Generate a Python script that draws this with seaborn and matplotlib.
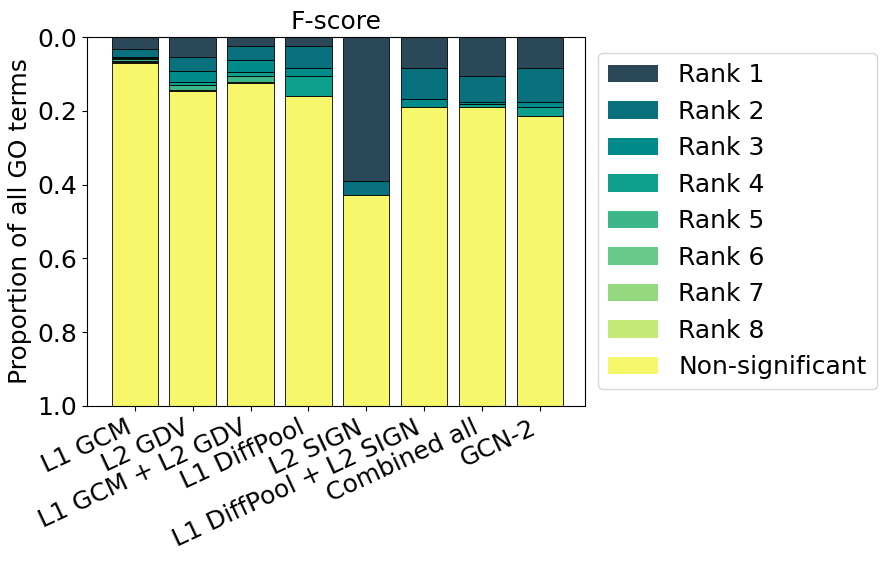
import numpy as np
import seaborn as sns
import matplotlib.pyplot as plt

methods = ['L1 GCM', 'L2 GDV', 'L1 GCM + L2 GDV', 'L1 DiffPool', 'L2 SIGN',
           'L1 DiffPool + L2 SIGN', 'Combined all', 'GCN-2']
ranks = ['Rank 1', 'Rank 2', 'Rank 3', 'Rank 4', 'Rank 5', 'Rank 6', 'Rank 7', 'Rank 8']

# proportion of GO terms per rank (rows = ranks, columns = methods)
rank1 = [0.031, 0.055, 0.023, 0.023, 0.390, 0.085, 0.106, 0.085]
rank2 = [0.023, 0.038, 0.038, 0.062, 0.038, 0.083, 0.070, 0.091]
rank3 = [0.003, 0.030, 0.033, 0.021, 0.000, 0.021, 0.006, 0.013]
rank4 = [0.003, 0.007, 0.012, 0.054, 0.000, 0.000, 0.007, 0.025]
rank5 = [0.006, 0.013, 0.016, 0.001, 0.000, 0.000, 0.001, 0.001]
rank6 = [0.001, 0.001, 0.001, 0.000, 0.000, 0.000, 0.000, 0.000]
rank7 = [0.001, 0.001, 0.001, 0.000, 0.000, 0.000, 0.000, 0.000]
rank8 = [0.001, 0.000, 0.000, 0.000, 0.000, 0.000, 0.000, 0.000]

colors = ['#2a4858', '#09717e', '#008a8a', '#0fa08d', '#3db68a',
          '#68c98a', '#94d97f', '#c5e976', '#f7f76c']

vals = [rank1, rank2, rank3, rank4, rank5, rank6, rank7, rank8]
nonsig = 1 - np.sum(vals, axis=0)
vals.append(list(nonsig))
labels = ranks + ['Non-significant']

fig, ax = plt.subplots(figsize=(8.85, 5.62), dpi=100)
bottom = np.zeros(len(methods))
for v, c, lab in zip(vals, colors, labels):
    sns.barplot(x=methods, y=v, bottom=bottom, color=c, label=lab,
                edgecolor='black', linewidth=0.6, width=0.8,
                errorbar=None, saturation=1, ax=ax)
    bottom = bottom + np.array(v)

ax.set_xlim(-0.83, 7.78)
ax.set_ylim(1.0, 0.0)
ax.set_title('F-score', fontsize=18)
ax.set_ylabel('Proportion of all GO terms', fontsize=18)
ax.tick_params(axis='both', labelsize=18)
plt.setp(ax.get_xticklabels(), rotation=25, ha='right')
leg = ax.legend(fontsize=18, loc='center left', bbox_to_anchor=(1.002, 0.5))
for p in leg.get_patches():
    p.set_linewidth(0)

plt.subplots_adjust(left=0.098, right=0.661, top=0.934, bottom=0.278)
plt.savefig('out.png')
